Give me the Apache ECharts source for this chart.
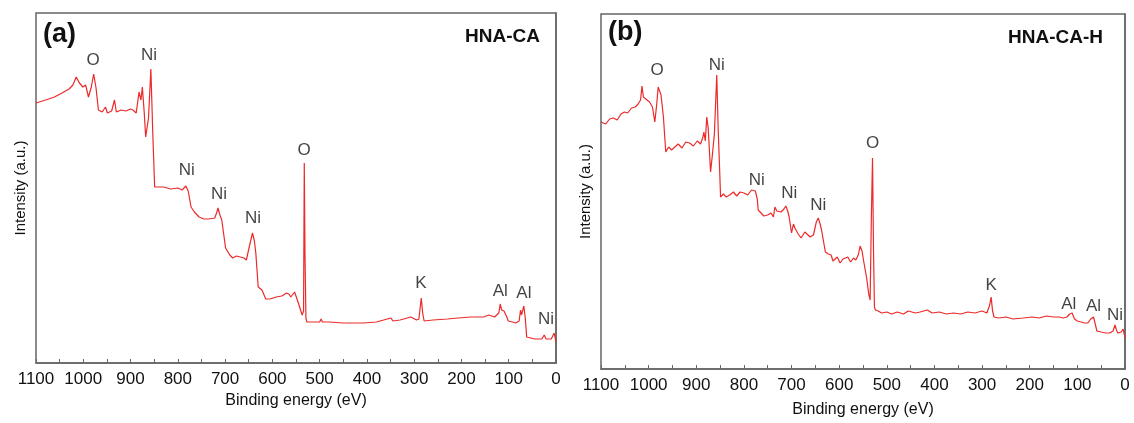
<!DOCTYPE html>
<html>
<head>
<meta charset="utf-8">
<script src="https://cdn.jsdelivr.net/npm/echarts@6/dist/echarts.min.js"></script>
<style>
  html, body { margin: 0; padding: 0; background: #fff; }
  #chart { width: 1134px; height: 423px; }
</style>
</head>
<body>
<div id="chart"></div>
<script>
// XPS survey spectra, [binding energy (eV), intensity (a.u.)]
const spectrumA = [
    [1100, 260], [1080, 263], [1061, 266], [1045, 270], [1030, 274], [1022, 278], [1015, 286], [1008, 280],
    [1001, 276], [995, 278], [989, 266], [983, 276], [978, 289], [973, 275], [968, 253], [960, 251],
    [953, 256], [949, 250], [946, 250], [940, 252], [934, 263], [930, 251], [920, 253], [910, 252],
    [900, 254], [895, 253], [888, 250], [885, 248], [882, 271], [878, 263], [875, 276], [871, 250],
    [868, 226], [862, 245], [857, 294], [853, 230], [849, 176], [845, 175], [830, 176], [815, 174],
    [800, 175], [791, 173], [783, 177], [778, 172], [772, 156], [765, 151], [755, 146], [745, 144],
    [735, 144], [722, 145], [718, 150], [715, 155], [711, 148], [707, 143], [699, 115], [690, 108],
    [684, 105], [676, 107], [668, 106], [660, 105], [655, 103], [648, 118], [642, 130], [638, 122],
    [635, 110], [630, 76], [622, 73], [614, 64], [605, 64], [592, 66], [580, 67], [570, 70],
    [565, 69], [561, 66], [557, 64], [553, 71], [545, 60], [537, 48], [534, 52], [532.5, 200],
    [531, 110], [529, 45], [527, 41], [515, 41], [500, 41], [497, 44], [494, 41], [490, 43],
    [487, 41], [480, 41], [450, 40], [407, 40], [380, 41], [349, 45], [345, 42], [330, 43],
    [307, 46], [295, 43], [290, 44], [285, 65], [282, 50], [279, 42], [260, 43], [230, 44],
    [207, 45], [180, 46], [153, 46], [142, 48], [130, 46], [121, 50], [118, 59], [115, 53],
    [113, 51], [110, 52], [107, 50], [104, 46], [101, 42], [92, 41], [85, 40], [78, 42],
    [75, 53], [73, 48], [72, 46], [70, 50], [68, 57], [65, 45], [62, 26], [53, 25],
    [45, 24], [38, 24], [30, 24], [25, 28], [21, 24], [17, 22], [10, 24], [4, 30], [0, 21]
];

const spectrumB = [
    [1100, 247], [1090, 245], [1082, 250], [1074, 251], [1066, 249], [1058, 255], [1051, 257], [1044, 256],
    [1036, 261], [1028, 262], [1022, 265], [1017, 269], [1014, 283], [1011, 272], [1006, 270], [1002, 272],
    [998, 267], [992, 262], [987, 247], [983, 265], [980, 282], [977, 278], [974, 274], [969, 252],
    [964, 217], [958, 222], [952, 219], [945, 222], [938, 225], [930, 221], [922, 227], [914, 226],
    [906, 223], [898, 228], [891, 225], [886, 232], [884, 237], [881, 228], [878, 252], [875, 241],
    [870, 197], [866, 215], [862, 235], [857, 294], [854, 240], [851, 200], [849, 172], [843, 175],
    [837, 172], [830, 174], [822, 177], [815, 173], [808, 177], [800, 176], [792, 174], [784, 179],
    [776, 178], [772, 170], [770, 159], [766, 157], [758, 153], [750, 154], [743, 156], [738, 152],
    [735, 162], [731, 158], [728, 156], [722, 157], [716, 160], [712, 163], [708, 158], [705, 152],
    [700, 136], [696, 145], [693, 141], [686, 135], [680, 131], [678, 130], [672, 137], [668, 136],
    [661, 132], [654, 134], [648, 147], [644, 151], [640, 145], [637, 139], [629, 117], [623, 115],
    [617, 114], [613, 108], [610, 107], [604, 112], [598, 106], [592, 110], [588, 109], [582, 112],
    [576, 107], [570, 111], [565, 109], [560, 114], [556, 123], [552, 118], [549, 109], [542, 90],
    [538, 75], [535, 69], [532.5, 150], [530, 211], [528, 120], [526, 62], [524, 59], [518, 58],
    [511, 56], [500, 57], [490, 55], [478, 57], [465, 55], [455, 58], [440, 56], [430, 57],
    [415, 59], [405, 56], [390, 57], [375, 55], [360, 56], [345, 55], [330, 57], [315, 56],
    [300, 58], [290, 56], [284, 64], [281, 72], [278, 58], [275, 52], [265, 51], [250, 52],
    [235, 50], [214, 51], [195, 52], [180, 51], [165, 53], [150, 52], [138, 52], [130, 51],
    [122, 52], [116, 55], [111, 56], [106, 50], [100, 48], [92, 47], [85, 46], [78, 46],
    [72, 50], [66, 52], [62, 44], [59, 38], [50, 37], [40, 36], [32, 36], [25, 38],
    [21, 44], [18, 39], [15, 36], [8, 37], [4, 40], [2, 38], [0, 31]
];

// peak labels: [text, energy, intensity]
const peaksA = [
    ['O', 979, 303], ['Ni', 861, 308], ['Ni', 781, 193], ['Ni', 713, 169], ['Ni', 641, 145],
    ['O', 533, 213], ['K', 286, 80], ['Al', 118, 72], ['Al', 68, 70], ['Ni', 21, 44]
];
const peaksB = [
    ['O', 982, 299], ['Ni', 857, 304], ['Ni', 773, 189], ['Ni', 705, 176], ['Ni', 644, 164],
    ['O', 530, 226], ['K', 281, 84], ['Al', 118, 65], ['Al', 66, 63], ['Ni', 21, 54]
];

const xTicks = { min: 0, max: 1100, interval: 100 };
const lineColor = '#ec2a2a';
const font = '"Liberation Sans", Arial, sans-serif';

function xAxis(gridIndex, nameGap) {
    return {
        type: 'value', gridIndex: gridIndex, inverse: true,
        min: xTicks.min, max: xTicks.max, interval: xTicks.interval,
        name: 'Binding energy (eV)', nameLocation: 'middle', nameGap: nameGap,
        nameTextStyle: { fontFamily: font, fontSize: 16, color: '#111' },
        axisLine: { show: true, lineStyle: { color: '#666', width: 1.5 } },
        axisTick: { show: true, inside: true, length: 4, lineStyle: { color: '#666' } },
        minorTick: { show: true, splitNumber: 2, length: 4, lineStyle: { color: '#666' } },
        axisLabel: { fontFamily: font, fontSize: 17, color: '#111', margin: 8, formatter: v => String(v) },
        splitLine: { show: false }
    };
}

function yAxis(gridIndex, max) {
    return {
        type: 'value', gridIndex: gridIndex, min: 0, max: max,
        name: 'Intensity (a.u.)', nameLocation: 'middle', nameGap: 8, nameRotate: 90,
        nameTextStyle: { fontFamily: font, fontSize: 15, color: '#111' },
        axisLine: { show: true, lineStyle: { color: '#666', width: 1.5 } },
        axisTick: { show: false }, axisLabel: { show: false }, splitLine: { show: false }
    };
}

function lineSeries(index, data) {
    return {
        type: 'line', xAxisIndex: index, yAxisIndex: index, data: data,
        showSymbol: false, symbol: 'none', animation: false,
        lineStyle: { color: lineColor, width: 1.2 }
    };
}

function labelSeries(index, peaks) {
    return {
        type: 'scatter', xAxisIndex: index, yAxisIndex: index, animation: false,
        symbolSize: 1, itemStyle: { color: 'rgba(0,0,0,0)' }, silent: true,
        data: peaks.map(p => ({ name: p[0], value: [p[1], p[2]] })),
        label: {
            show: true, position: 'inside', formatter: '{b}',
            fontFamily: font, fontSize: 17, color: '#111', textBorderWidth: 0
        }
    };
}

const chart = echarts.init(document.getElementById('chart'));
chart.setOption({
    backgroundColor: '#fff',
    grid: [
        { left: 36, top: 13, width: 520, height: 350, show: true, borderColor: '#666', borderWidth: 1.5 },
        { left: 601, top: 14, width: 524, height: 355, show: true, borderColor: '#666', borderWidth: 1.5 }
    ],
    xAxis: [xAxis(0, 27), xAxis(1, 33)],
    yAxis: [yAxis(0, 350), yAxis(1, 355)],
    series: [
        lineSeries(0, spectrumA), labelSeries(0, peaksA),
        lineSeries(1, spectrumB), labelSeries(1, peaksB)
    ],
    graphic: [
        { type: 'text', left: 43, top: 21, style: { text: '(a)', font: 'bold 27px ' + font, fill: '#111' } },
        { type: 'text', right: 594, top: 27, style: { text: 'HNA-CA', font: 'bold 19px ' + font, fill: '#111' } },
        { type: 'text', left: 608, top: 19, style: { text: '(b)', font: 'bold 27px ' + font, fill: '#111' } },
        { type: 'text', right: 31, top: 28, style: { text: 'HNA-CA-H', font: 'bold 19px ' + font, fill: '#111' } }
    ]
});
</script>
</body>
</html>
